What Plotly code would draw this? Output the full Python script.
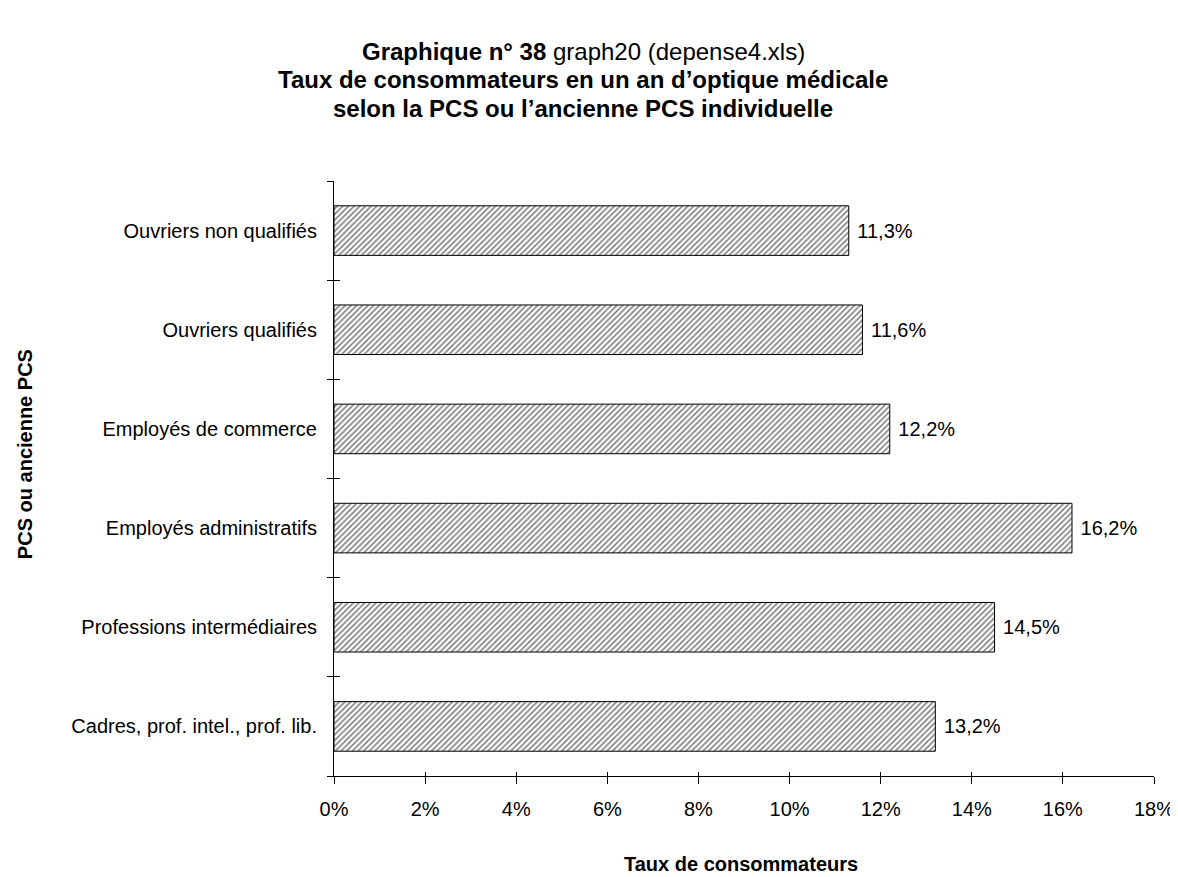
import plotly.graph_objects as go

categories = [
    "Cadres, prof. intel., prof. lib.",
    "Professions intermédiaires",
    "Employés administratifs",
    "Employés de commerce",
    "Ouvriers qualifiés",
    "Ouvriers non qualifiés",
]
values = [13.2, 14.5, 16.2, 12.2, 11.6, 11.3]
x_tick_values = [0, 2, 4, 6, 8, 10, 12, 14, 16, 18]
x_tick_labels = ["0%", "2%", "4%", "6%", "8%", "10%", "12%", "14%", "16%", "18%"]
title_lines = [
    "<b>Graphique n° 38</b> graph20 (depense4.xls)",
    "<b>Taux de consommateurs en un an d’optique médicale</b>",
    "<b>selon la PCS ou l’ancienne PCS individuelle</b>",
]

FONT = "Liberation Sans, Arial, sans-serif"
labels = ["\u00a0" + ("%.1f" % v).replace(".", ",") + "%" for v in values]

L, R, T, B = 326, 1149, 173, 768
W, H = 1178, 877


def px_y(y):
    return (B - y) / (B - T)


def px_x(x):
    return (x - L) / (R - L)


fig = go.Figure()
fig.add_trace(go.Bar(
    x=values, y=categories, orientation="h",
    marker=dict(
        color="white",
        line=dict(color="black", width=1),
        pattern=dict(shape="/", fgcolor="black", bgcolor="white", size=4, solidity=0.4),
    ),
    text=labels, textposition="outside", cliponaxis=False,
    textfont=dict(family=FONT, size=20, color="black"),
    showlegend=False, hoverinfo="skip",
))
fig.add_trace(go.Scatter(x=[0], y=[0], xaxis="x2", yaxis="y2", mode="markers",
                         marker=dict(opacity=0), showlegend=False, hoverinfo="skip"))

annotations = []
for line, yc in zip(title_lines, [43, 72, 101]):
    annotations.append(dict(
        text=line, xref="paper", yref="paper", x=px_x(576), y=px_y(yc),
        xanchor="center", yanchor="middle", showarrow=False,
        font=dict(family=FONT, size=24, color="black")))
annotations += [
    dict(text="<b>Taux de consommateurs</b>", xref="paper", yref="paper",
         x=px_x(734), y=px_y(856), xanchor="center", yanchor="middle",
         showarrow=False, font=dict(family=FONT, size=20, color="black")),
    dict(text="<b>PCS ou ancienne PCS</b>", xref="paper", yref="paper",
         x=px_x(16), y=px_y(446), xanchor="center", yanchor="middle", textangle=-90,
         showarrow=False, font=dict(family=FONT, size=20, color="black")),
]

fig.update_layout(
    width=W, height=H,
    margin=dict(l=L, r=W - R, t=T, b=H - B),
    paper_bgcolor="white", plot_bgcolor="white",
    font=dict(family=FONT, size=20, color="black"),
    bargap=0.5,
    xaxis=dict(
        range=[0, 18], tickvals=x_tick_values, ticktext=x_tick_labels,
        showgrid=False, zeroline=False, showline=True, linecolor="black", linewidth=1,
        ticks="outside", ticklen=7, tickcolor="black", tickwidth=1,
        ticklabelstandoff=8, tickfont=dict(family=FONT, size=20),
    ),
    yaxis=dict(
        range=[-0.5, 5.5], type="category",
        showgrid=False, zeroline=False, showline=True, linecolor="black", linewidth=1,
        ticks="outside", tickson="boundaries", ticklen=6, tickcolor="black", tickwidth=1,
        ticklabelstandoff=12, tickfont=dict(family=FONT, size=20),
    ),
    xaxis2=dict(
        overlaying="x", range=[0, 18], tickvals=x_tick_values, showticklabels=False,
        ticks="inside", ticklen=4, tickcolor="black", showgrid=False, zeroline=False,
        showline=False, anchor="y2",
    ),
    yaxis2=dict(
        overlaying="y", range=[-0.5, 5.5], tickvals=[-0.5, 0.5, 1.5, 2.5, 3.5, 4.5, 5.5],
        showticklabels=False, ticks="inside", ticklen=6, tickcolor="black",
        showgrid=False, zeroline=False, showline=False, anchor="x2",
    ),
    annotations=annotations,
)

fig.write_html("out.html")
